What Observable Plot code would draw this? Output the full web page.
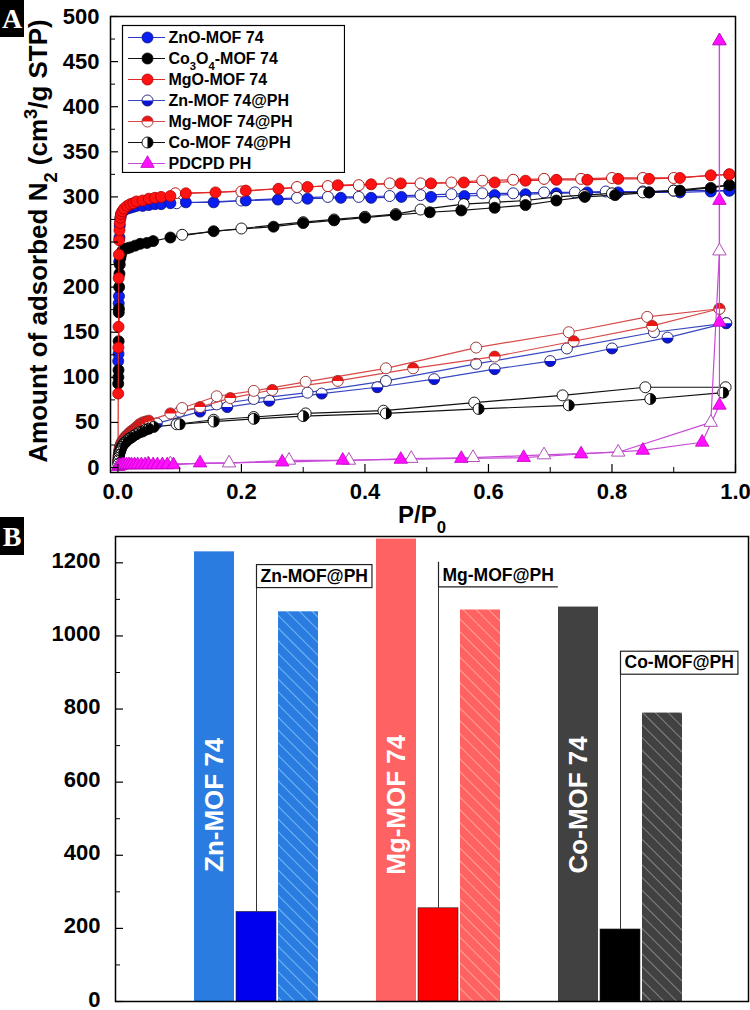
<!DOCTYPE html>
<html><head><meta charset="utf-8">
<script src="https://cdn.jsdelivr.net/npm/d3@7"></script>
<script src="https://cdn.jsdelivr.net/npm/@observablehq/plot@0.6"></script>
<style>
body{margin:0;background:#fff;}
#wrap{position:relative;width:750px;height:1010px;overflow:hidden;background:#fff;font-family:"Liberation Sans",Arial,sans-serif;}
.tag{position:absolute;left:0;background:#000;color:#fff;font-family:"Liberation Serif","Times New Roman",serif;font-weight:bold;font-size:28px;width:24px;text-align:center;z-index:5;}
</style></head><body>
<div id="wrap">
 <div id="A" style="position:absolute;left:0;top:0;z-index:2"></div>
 <div id="legend" style="position:absolute;left:121px;top:24px;z-index:3"></div>
 <div id="B" style="position:absolute;left:0;top:520px;z-index:1"></div>
 <div class="tag" style="top:0;height:37px;line-height:38px">A</div>
 <div class="tag" style="top:517px;height:38px;line-height:39px">B</div>
</div>
<script>
// ---------- Panel A data: [P/P0, adsorbed volume] ----------
const legendNames = ["ZnO-MOF 74","Co3O4-MOF 74","MgO-MOF 74","Zn-MOF 74@PH","Mg-MOF 74@PH","Co-MOF 74@PH","PDCPD PH"];

const znoAds = [[0.0005,118],[0.001,126],[0.0013,182],[0.0017,190],[0.002,228],[0.0025,255],[0.003,268],[0.004,276],[0.005,280],[0.007,283],[0.01,285],[0.015,287],[0.02,288],[0.025,289],[0.03,290],[0.04,290],[0.05,291],[0.06,292],[0.07,292],[0.085,293],[0.11,294],[0.155,294],[0.207,296],[0.259,297],[0.307,298],[0.361,299],[0.41,299],[0.459,300],[0.507,300],[0.561,301],[0.61,302],[0.66,303],[0.71,304],[0.76,305],[0.81,305],[0.86,305],[0.91,305],[0.96,306],[0.99,307]];
const znoDes = [[0.99,307],[0.9,307],[0.85,306],[0.79,306],[0.74,305],[0.69,305],[0.64,304],[0.59,304],[0.54,303],[0.49,302],[0.44,301],[0.39,300],[0.34,300],[0.29,299],[0.2,296],[0.095,293]];

const co3o4Ads = [[0.0005,93],[0.0008,100],[0.001,108],[0.0012,140],[0.0014,172],[0.0017,176],[0.002,200],[0.0025,215],[0.003,225],[0.004,232],[0.005,236],[0.007,240],[0.01,242],[0.015,243],[0.02,244],[0.028,246],[0.036,248],[0.047,249],[0.057,251],[0.085,255],[0.155,262],[0.252,267],[0.3,271],[0.35,274],[0.4,277],[0.45,280],[0.505,283],[0.556,285],[0.61,288],[0.66,291],[0.71,296],[0.756,300],[0.805,302],[0.86,305],[0.91,307],[0.96,310],[0.99,313]];
const co3o4Des = [[0.99,313],[0.9,307],[0.85,305],[0.8,304],[0.755,302],[0.71,300],[0.66,296],[0.61,294],[0.56,292],[0.49,286],[0.45,281],[0.4,278],[0.35,275],[0.3,272],[0.2,265],[0.104,258]];

const mgoAds = [[0.0002,1],[0.0005,82],[0.0008,133],[0.001,156],[0.0013,210],[0.0016,236],[0.002,252],[0.0025,263],[0.003,271],[0.004,277],[0.005,281],[0.007,284],[0.01,287],[0.015,290],[0.02,292],[0.025,293],[0.03,295],[0.04,296],[0.05,298],[0.06,299],[0.07,300],[0.085,301],[0.11,304],[0.158,305],[0.207,307],[0.26,309],[0.307,311],[0.356,313],[0.41,314],[0.458,315],[0.507,315],[0.56,316],[0.61,316],[0.66,318],[0.71,319],[0.76,319],[0.81,320],[0.86,320],[0.91,321],[0.96,324],[0.99,325]];
const mgoDes = [[0.99,325],[0.9,321],[0.85,321],[0.8,321],[0.75,320],[0.69,320],[0.64,319],[0.59,318],[0.54,316],[0.49,315],[0.44,315],[0.39,313],[0.34,312],[0.29,311],[0.2,306],[0.093,304]];

const znPHAds = [[0.0005,6],[0.001,10],[0.0015,13],[0.002,16],[0.003,19],[0.004,21],[0.005,23],[0.006,25],[0.008,27],[0.01,29],[0.012,30],[0.015,32],[0.018,34],[0.021,35],[0.025,37],[0.03,39],[0.035,41],[0.04,43],[0.046,45],[0.052,47],[0.063,49],[0.133,62],[0.177,67],[0.245,74],[0.33,82],[0.42,89],[0.512,98],[0.61,109],[0.7,118],[0.8,132],[0.89,144],[0.985,160]];
const znPHDes = [[0.985,160],[0.868,150],[0.727,132],[0.58,115],[0.434,96],[0.307,83],[0.22,76],[0.16,70],[0.1,62]];

const mgPHAds = [[0.0005,8],[0.001,13],[0.0015,16],[0.002,19],[0.003,22],[0.004,24],[0.005,26],[0.006,28],[0.008,30],[0.01,32],[0.012,34],[0.015,36],[0.018,38],[0.021,40],[0.025,42],[0.03,45],[0.035,48],[0.04,50],[0.045,51],[0.05,52],[0.085,60],[0.133,67],[0.182,77],[0.25,86],[0.356,96],[0.478,110],[0.61,123],[0.738,140],[0.865,157],[0.974,176]];
const mgPHDes = [[0.974,176],[0.857,167],[0.73,150],[0.58,133],[0.434,110],[0.304,95],[0.22,85],[0.16,79],[0.104,66]];

const coPHAds = [[0.0005,4],[0.001,8],[0.0015,11],[0.002,14],[0.003,17],[0.004,19],[0.005,21],[0.006,23],[0.008,25],[0.01,27],[0.012,28],[0.015,30],[0.018,32],[0.021,33],[0.025,35],[0.03,37],[0.035,39],[0.04,40],[0.045,42],[0.05,43],[0.058,45],[0.1,48],[0.155,51],[0.22,54],[0.3,57],[0.434,60],[0.584,65],[0.73,69],[0.862,76],[0.98,83]];
const coPHDes = [[0.984,89],[0.854,89],[0.72,80],[0.577,72],[0.43,63],[0.304,60],[0.22,56],[0.155,53],[0.095,48]];

const pdcpdAds = [[0.0005,1],[0.002,2],[0.004,2],[0.007,3],[0.01,3],[0.014,3],[0.018,3],[0.022,3],[0.027,3],[0.032,3],[0.038,3],[0.044,3],[0.05,3],[0.057,3],[0.064,3],[0.072,3],[0.08,3],[0.09,3],[0.133,5],[0.266,6],[0.364,8],[0.458,9],[0.556,10],[0.657,11],[0.75,15],[0.85,19],[0.946,28],[0.974,69],[0.974,161],[0.974,296],[0.974,473]];
const pdcpdDes = [[0.974,473],[0.974,240],[0.96,50],[0.81,17],[0.69,14],[0.575,11],[0.475,10],[0.374,8],[0.277,8],[0.18,5],[0.085,4],[0.049,4]];

const xTicksA = [0, 0.2, 0.4, 0.6, 0.8, 1.0];
const yTicksA = [0,50,100,150,200,250,300,350,400,450,500];

// ---------- Panel B data ----------
const groups = ["Zn","Mg","Co"];
const mofLabels = ["Zn-MOF 74","Mg-MOF 74","Co-MOF 74"];
const mofValues = [1230, 1265, 1079];
const oxideValues = [245, 255, 197];
const phLabels = ["Zn-MOF@PH","Mg-MOF@PH","Co-MOF@PH"];
const phValues = [1066, 1071, 789];
const yTicksB = [0,200,400,600,800,1000,1200];

// ---------- styles ----------
const FONT = "'Liberation Sans', Arial, sans-serif";
const R = 5.5;
const rr = s => Math.sqrt(s/Math.PI);
const halfBottom = {draw(c,s){const r=rr(s);c.moveTo(r,0);c.arc(0,0,r,0,Math.PI);c.closePath();}};
const halfTop = {draw(c,s){const r=rr(s);c.moveTo(-r,0);c.arc(0,0,r,Math.PI,2*Math.PI);c.closePath();}};
const halfRight = {draw(c,s){const r=rr(s);c.moveTo(0,-r);c.arc(0,0,r,-Math.PI/2,Math.PI/2);c.closePath();}};

const styleA = [
 {kind:"full", line:"#2a35c8", fill:"#0a1ef2", stroke:"#0a1280"},
 {kind:"full", line:"#111", fill:"#000", stroke:"#000"},
 {kind:"full", line:"#e02a2a", fill:"#ff1212", stroke:"#b00000"},
 {kind:"half", half:halfBottom, line:"#3848c0", fill:"#0a14d8", stroke:"#1a1a70"},
 {kind:"half", half:halfTop, line:"#d84848", fill:"#ee1515", stroke:"#9a2a2a"},
 {kind:"half", half:halfRight, line:"#111", fill:"#000", stroke:"#000"},
 {kind:"tri", line:"#c84ad8", fill:"#ff10ff", stroke:"#c000c0", openStroke:"#b050b8"}
];
const seriesA = [
 [znoAds, znoDes],[co3o4Ads, co3o4Des],[mgoAds, mgoDes],
 [znPHAds, znPHDes],[mgPHAds, mgPHDes],[coPHAds, coPHDes],[pdcpdAds, pdcpdDes]
].map(([ads, des], i) => ({name: legendNames[i], ads, des, st: styleA[i]}));

function adsMarkers(data, chan, st) {
 if (st.kind === "full") return [Plot.dot(data, {...chan, r:R, fill:st.fill, stroke:st.stroke, strokeWidth:0.8})];
 if (st.kind === "half") return [
   Plot.dot(data, {...chan, r:R, fill:"white"}),
   Plot.dot(data, {...chan, r:R, symbol:st.half, fill:st.fill}),
   Plot.dot(data, {...chan, r:R, fill:"none", stroke:st.stroke, strokeWidth:0.9})];
 return [Plot.dot(data, {...chan, r:5, symbol:"triangle", fill:st.fill, stroke:st.stroke, strokeWidth:0.8})];
}
function desMarkers(data, chan, st) {
 if (st.kind === "tri") return [Plot.dot(data, {...chan, r:5, symbol:"triangle", fill:"white", stroke:st.openStroke, strokeWidth:1})];
 return [Plot.dot(data, {...chan, r:R, fill:"white", stroke:st.stroke, strokeWidth:0.9})];
}

const xy = {x: d => d[0], y: d => d[1]};
const marksA = [];
for (const s of seriesA) {
 marksA.push(Plot.line(s.ads, {...xy, stroke:s.st.line, strokeWidth:1.2}));
 marksA.push(Plot.line(s.des, {...xy, stroke:s.st.line, strokeWidth:1.2}));
 marksA.push(...desMarkers(s.des, xy, s.st));
 marksA.push(...adsMarkers(s.st.kind === "full" && s.ads[0][1] < 5 ? s.ads.slice(1) : s.ads, xy, s.st));
}

const plotA = Plot.plot({
 width: 750, height: 530,
 marginLeft: 110, marginRight: 15, marginTop: 16, marginBottom: 58,
 x: {domain: [-0.012, 1.0]},
 y: {domain: [-5.5, 500]},
 style: {fontFamily: FONT, fontSize: "22px", fontWeight: "bold", color: "black", background: "none", overflow: "visible"},
 marks: [
  ...marksA,
  Plot.frame({stroke:"#000", strokeWidth:1.5}),
  Plot.axisY(yTicksA, {tickSize:-8, tickPadding:19, label:null, strokeWidth:1.2}),
  Plot.axisY(d3.range(25, 500, 50), {tickSize:-5, tickFormat:() => "", label:null}),
  Plot.axisX(xTicksA, {tickSize:-8, tickPadding:19, tickFormat:d3.format(".1f"), label:null, strokeWidth:1.2}),
  Plot.axisX(d3.range(0.1, 1, 0.2), {tickSize:-5, tickFormat:() => "", label:null})
 ]
});
document.getElementById("A").append(plotA);

// rich text helper
function rich(sel, parts) {
 sel.text(null);
 for (const [str, kind] of parts) {
  const t = sel.append("tspan").text(str);
  if (kind === "sub") t.attr("baseline-shift","sub").attr("font-size","70%");
  if (kind === "sup") t.attr("baseline-shift","super").attr("font-size","70%");
 }
}
const svgA = d3.select(plotA);
rich(svgA.append("text").attr("transform","translate(47,241) rotate(-90)").attr("text-anchor","middle")
  .attr("font-size", 26).attr("fill","#000"),
  [["Amount of adsorbed N"],["2","sub"],[" (cm"],["3","sup"],["/g STP)"]]);
rich(svgA.append("text").attr("x", 422).attr("y", 523).attr("text-anchor","middle").attr("font-size", 24).attr("fill","#000"),
  [["P/P"],["0","sub"]]);

// ---------- Legend (overlay plot) ----------
const legendPlot = Plot.plot({
 width: 224, height: 149, margin: 0,
 y: {type:"point", domain: legendNames, range:[12,139], padding:0, axis:null},
 style: {fontFamily: FONT, fontSize: "16px", fontWeight: "bold", color: "black", background: "white"},
 marks: [
  Plot.frame({stroke:"#000", strokeWidth:1.2, inset:1}),
  ...seriesA.flatMap(s => [
    Plot.ruleY([s], {y: "name", stroke: s.st.line, strokeWidth:1.2, insetLeft:7, insetRight:180}),
    ...adsMarkers([s], {y: "name", frameAnchor:"left", dx:26}, s.st),
    Plot.text([s], {y: "name", text: "name", frameAnchor:"left", dx:47, textAnchor:"start", fill:"#000"})
  ])
 ]
});
document.getElementById("legend").append(legendPlot);
d3.select(legendPlot).selectAll("text").filter(function(){return this.textContent === legendNames[1];})
 .each(function(){ rich(d3.select(this), [["Co"],["3","sub"],["O"],["4","sub"],["-MOF 74"]]); });

// ---------- Panel B ----------
const mofColors = ["#2b7ce0", "#ff6262", "#414141"];
const oxideColors = ["#0000ee", "#ff0000", "#000000"];
const hatchColors = ["#8fd2fa", "#ffbcaa", "#a0a0a0"];
const annotStyle = ["box", "underline", "box"];
const annotLevel = [1164, 1166, 927];
const barLabelLevel = 538;

const tableB = groups.map((g, i) => ({group:g, mof:mofValues[i], oxide:oxideValues[i], ph:phValues[i], mofLabel:mofLabels[i], phLabel:phLabels[i]}));
const gi = d => groups.indexOf(d.group);

const defsMark = () => {
 const defs = d3.create("svg:defs");
 groups.forEach((g, i) => {
  const p = defs.append("pattern").attr("id", "hatch-" + g).attr("patternUnits","userSpaceOnUse")
    .attr("width", 9).attr("height", 9).attr("patternTransform","rotate(-45)");
  p.append("rect").attr("width", 9).attr("height", 9).attr("fill", mofColors[i]);
  p.append("line").attr("x1", 0).attr("y1", 0).attr("x2", 0).attr("y2", 9).attr("stroke", hatchColors[i]).attr("stroke-width", 1.4);
 });
 return defs.node();
};

const plotB = Plot.plot({
 width: 750, height: 490,
 marginLeft: 115, marginRight: 2, marginTop: 16, marginBottom: 9,
 x: {type:"band", domain: groups, paddingInner:0.78, paddingOuter:0.62, align:0.53, axis:null},
 y: {domain:[0, 1272]},
 color: {type:"identity"},
 style: {fontFamily: FONT, fontSize: "22px", fontWeight: "bold", color: "black", background: "none"},
 marks: [
  defsMark,
  Plot.barY(tableB, {x:"group", y:"mof", fill: d => mofColors[gi(d)], dx:-42}),
  Plot.barY(tableB, {x:"group", y:"oxide", fill: d => oxideColors[gi(d)], stroke:"#222", strokeWidth:0.6}),
  Plot.barY(tableB, {x:"group", y:"ph", fill: d => `url(#hatch-${d.group})`, dx:42}),
  Plot.ruleX(tableB, {x:"group", y1:"oxide", y2: d => annotLevel[gi(d)], stroke:"#333", strokeWidth:1}),
  Plot.text(tableB, {x:"group", y: d => annotLevel[gi(d)], text:"phLabel", textAnchor:"start", dx:4, fontSize:17.5, fill:"#000"}),
  Plot.text(tableB, {x:"group", y: () => barLabelLevel, text:"mofLabel", rotate:-90, dx:-42, fill:"white", fontSize:26}),
  Plot.frame({stroke:"#000", strokeWidth:1.5}),
  Plot.axisY(yTicksB, {tickSize:-8, tickFormat:() => "", label:null, strokeWidth:1.2}),
  Plot.axisY(yTicksB, {tickSize:0, tickPadding:15, tickFormat: d3.format("d"), label:null, dy:-2}),
  Plot.axisY(d3.range(100, 1200, 200), {tickSize:-5, tickFormat:() => "", label:null})
 ]
});
document.getElementById("B").append(plotB);
const svgB = d3.select(plotB);
svgB.selectAll("text").filter(function(){ return phLabels.includes(this.textContent); }).each(function() {
 const k = phLabels.indexOf(this.textContent);
 const b = this.getBBox();
 const parent = d3.select(this.parentNode);
 const tf = this.getAttribute("transform");
 const x0 = b.x - 4, y0 = b.y - 1, w = b.width + 8, h = b.height + 3;
 if (annotStyle[k] === "box") {
  const r = parent.insert("rect", () => this).attr("x", x0).attr("y", y0).attr("width", w).attr("height", h)
   .attr("fill","white").attr("stroke","#222").attr("stroke-width",1.2);
  if (tf) r.attr("transform", tf);
 } else {
  const p = parent.append("path").attr("d", `M${x0},${y0-2}V${y0+h}H${x0+w}`).attr("fill","none").attr("stroke","#222").attr("stroke-width",1.2);
  if (tf) p.attr("transform", tf);
 }
});
rich(svgB.append("text").attr("transform","translate(43,768) rotate(-90)").attr("text-anchor","middle")
  .attr("font-size", 25).attr("fill","#000"),
  [["BET surface area (m"],["2","sup"],["/g)"]]);
</script>
</body></html>
